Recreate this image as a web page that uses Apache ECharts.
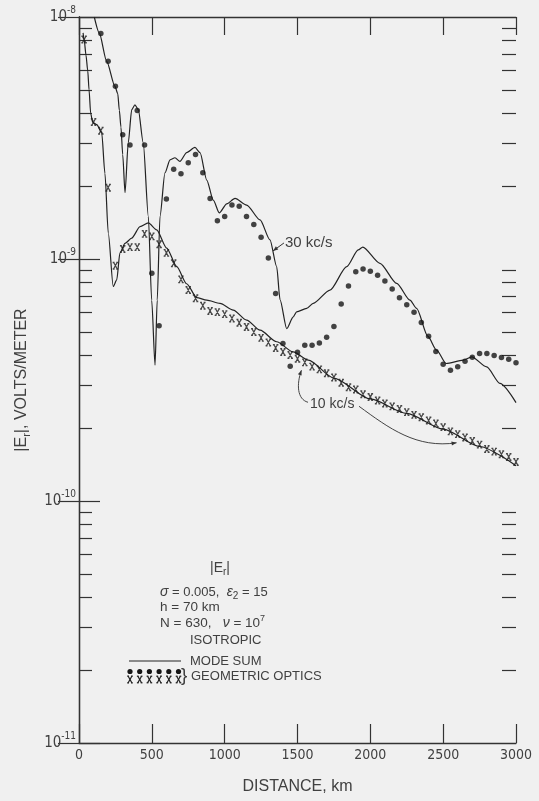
<!DOCTYPE html>
<html><head><meta charset="utf-8">
<script src="https://cdn.jsdelivr.net/npm/echarts@6/dist/echarts.min.js"></script>
<style>html,body{margin:0;padding:0;background:#f0f0f0}#c{width:539px;height:801px}</style>
</head><body><div id="c"></div>
<script>
// ---------- data ----------
const xTickValues = [0, 500, 1000, 1500, 2000, 2500, 3000];
const minorTickFactors = [2, 3, 4, 5, 6, 7, 8, 9];
const minorTickDecades = [-11, -10, -9];

// 30 kc/s mode sum (solid line)
const mode30Dist = [105,139,190,247,266,277,288,300,316,338,362,384,407,441,476,499,522,537,556,590,625,659,693,739,796,831,877,922,963,1014,1071,1151,1243,1311,1357,1380,1426,1471,1494,1563,1608,1723,1838,1917,1948,2066,2181,2272,2318,2394,2455,2520,2638,2696,2799,2890,3000];
const mode30Vals = [1.0e-8,8.6e-9,6.56e-9,5.17e-9,4.82e-9,4.11e-9,3.51e-9,2.7e-9,1.88e-9,3.02e-9,4.14e-9,4.33e-9,4.14e-9,3.02e-9,1.50e-9,6.76e-10,3.64e-10,6.76e-10,1.50e-9,2.27e-9,2.57e-9,2.62e-9,2.53e-9,2.75e-9,2.89e-9,2.75e-9,2.12e-9,1.75e-9,1.55e-9,1.69e-9,1.78e-9,1.67e-9,1.45e-9,1.20e-9,9.3e-10,6.8e-10,5.16e-10,5.77e-10,6.05e-10,6.25e-10,6.56e-10,7.44e-10,9.3e-10,1.09e-9,1.12e-9,9.6e-10,7.93e-10,6.76e-10,6.25e-10,4.8e-10,4.2e-10,3.7e-10,3.82e-10,3.94e-10,3.58e-10,3.06e-10,2.55e-10];

// 30 kc/s geometric optics (dots)
const geo30Dist = [150,200,250,300,350,400,450,500,550,600,650,700,750,800,850,900,950,1000,1050,1100,1150,1200,1250,1300,1350,1400,1450,1500,1550,1600,1650,1700,1750,1800,1850,1900,1950,2000,2050,2100,2150,2200,2250,2300,2350,2400,2450,2500,2550,2600,2650,2700,2750,2800,2850,2900,2950,3000];
const geo30Vals = [8.54e-9,6.56e-9,5.17e-9,3.26e-9,2.96e-9,4.11e-9,2.96e-9,8.73e-10,5.30e-10,1.77e-9,2.35e-9,2.25e-9,2.50e-9,2.70e-9,2.27e-9,1.78e-9,1.44e-9,1.50e-9,1.67e-9,1.65e-9,1.50e-9,1.39e-9,1.23e-9,1.01e-9,7.21e-10,4.48e-10,3.60e-10,4.12e-10,4.40e-10,4.40e-10,4.50e-10,4.75e-10,5.26e-10,6.51e-10,7.73e-10,8.86e-10,9.09e-10,8.89e-10,8.56e-10,8.11e-10,7.51e-10,6.91e-10,6.47e-10,6.03e-10,5.47e-10,4.80e-10,4.15e-10,3.67e-10,3.47e-10,3.59e-10,3.78e-10,3.93e-10,4.07e-10,4.07e-10,3.99e-10,3.92e-10,3.85e-10,3.73e-10];

// 10 kc/s mode sum (solid line)
const mode10Dist = [28,36,48,60,69,80,94,122,156,178,201,235,259,281,316,362,419,476,533,602,671,739,808,877,968,1059,1151,1243,1357,1471,1574,1750,2000,2250,2500,2750,3000];
const mode10Vals = [8.6e-9,8.0e-9,6.95e-9,6.0e-9,5.0e-9,4.0e-9,3.67e-9,3.59e-9,3.32e-9,2.26e-9,1.28e-9,7.7e-10,8.2e-10,1.06e-9,1.16e-9,1.22e-9,1.36e-9,1.41e-9,1.32e-9,1.11e-9,9.3e-10,7.9e-10,6.93e-10,6.76e-10,6.56e-10,6.15e-10,5.59e-10,5.08e-10,4.55e-10,4.13e-10,3.82e-10,3.22e-10,2.64e-10,2.30e-10,1.98e-10,1.68e-10,1.40e-10];

// 10 kc/s geometric optics (x marks)
const geo10Dist = [35,100,150,200,250,300,350,400,450,500,550,600,650,700,750,800,850,900,950,1000,1050,1100,1150,1200,1250,1300,1350,1400,1450,1500,1550,1600,1650,1700,1750,1800,1850,1900,1950,2000,2050,2100,2150,2200,2250,2300,2350,2400,2450,2500,2550,2600,2650,2700,2750,2800,2850,2900,2950,3000];
const geo10Vals = [8.07e-9,3.68e-9,3.39e-9,1.97e-9,9.38e-10,1.10e-9,1.12e-9,1.12e-9,1.27e-9,1.24e-9,1.15e-9,1.06e-9,9.6e-10,8.24e-10,7.44e-10,6.88e-10,6.41e-10,6.10e-10,6.03e-10,5.92e-10,5.68e-10,5.45e-10,5.24e-10,4.99e-10,4.72e-10,4.52e-10,4.29e-10,4.13e-10,4.01e-10,3.87e-10,3.74e-10,3.59e-10,3.50e-10,3.37e-10,3.24e-10,3.08e-10,2.95e-10,2.89e-10,2.76e-10,2.69e-10,2.60e-10,2.53e-10,2.46e-10,2.40e-10,2.33e-10,2.27e-10,2.22e-10,2.15e-10,2.09e-10,2.02e-10,1.94e-10,1.89e-10,1.83e-10,1.77e-10,1.71e-10,1.64e-10,1.60e-10,1.56e-10,1.52e-10,1.45e-10];

// annotation anchors (data coordinates)
const label30At = [1414, 1.165e-9];
const target30 = [1332, 1.08e-9];
const label10At = [1586, 2.51e-10];
const target10a = [1527, 3.47e-10];
const target10b = [2592, 1.74e-10];

// ---------- styling ----------
const INK = '#232323';
const TXT = '#404040';
const NARROW = '"Liberation Sans Narrow","DejaVu Sans Condensed","Liberation Sans",sans-serif';
const SANS = '"Liberation Sans","DejaVu Sans",sans-serif';
const XPATH = 'path://M0,0L3.5,0M6.5,0L10,0M0,12L3.5,12M6.5,12L10,12M1.8,0L8.2,12M8.2,0L1.8,12';

const zip = (a, b) => a.map((v, i) => [v, b[i]]);
const minorExps = [];
minorTickDecades.forEach(d => minorTickFactors.forEach(f => minorExps.push(d + Math.log10(f))));

const chart = echarts.init(document.getElementById('c'), null, {renderer: 'canvas'});
const axisLine = {show: true, lineStyle: {color: '#333', width: 1.3}};
const tickStyle = {color: '#333', width: 1.2};

chart.setOption({
  backgroundColor: '#f0f0f0',
  animation: false,
  grid: {left: 79, right: 23, top: 17, bottom: 58, containLabel: false},
  xAxis: [
    {type: 'value', position: 'bottom', min: 0, max: 3000, interval: 500,
     axisLine, axisTick: {show: true, inside: true, length: 19, lineStyle: tickStyle},
     splitLine: {show: false},
     axisLabel: {margin: 5, fontSize: 14, fontFamily: NARROW, color: TXT,
       customValues: xTickValues, formatter: v => String(v)},
     name: 'DISTANCE, km', nameLocation: 'middle', nameGap: 36,
     nameTextStyle: {fontSize: 16, fontFamily: SANS, color: TXT}},
    {type: 'value', position: 'top', min: 0, max: 3000, interval: 500,
     axisLine, axisTick: {show: true, inside: true, length: 18, lineStyle: tickStyle},
     splitLine: {show: false}, axisLabel: {show: false}}
  ],
  yAxis: [
    {type: 'log', logBase: 10, position: 'left', min: 1e-11, max: 1e-8, splitNumber: 3,
     axisLine, axisTick: {show: true, inside: true, length: 21, lineStyle: tickStyle},
     splitLine: {show: false}, minorTick: {show: false},
     axisLabel: {margin: 3, showMinLabel: true, showMaxLabel: true,
       formatter: v => '{b|10}{s|' + Math.round(Math.log10(v)) + '}',
       rich: {
         b: {fontSize: 15, fontFamily: NARROW, color: TXT, lineHeight: 24},
         s: {fontSize: 10, fontFamily: NARROW, color: TXT, lineHeight: 10, verticalAlign: 'top'}
       }},
     name: '{a||E}{r|r}{a||, VOLTS/METER}', nameLocation: 'middle', nameGap: 47, nameRotate: 90,
     nameTextStyle: {fontSize: 16, fontFamily: SANS, color: TXT,
       rich: {
         a: {fontSize: 16, fontFamily: SANS, color: TXT, lineHeight: 20},
         r: {fontSize: 11, fontFamily: SANS, color: TXT, lineHeight: 11, verticalAlign: 'bottom'}
       }}},
    {type: 'log', logBase: 10, position: 'right', min: 1e-11, max: 1e-8, splitNumber: 3,
     axisLine, axisTick: {show: true, inside: true, length: 21, lineStyle: tickStyle},
     splitLine: {show: false}, axisLabel: {show: false}},
    {type: 'value', position: 'left', min: -11, max: -8,
     axisLine: {show: false}, splitLine: {show: false}, axisLabel: {show: false},
     axisTick: {show: true, inside: true, length: 13, lineStyle: tickStyle, customValues: minorExps}},
    {type: 'value', position: 'right', min: -11, max: -8,
     axisLine: {show: false}, splitLine: {show: false}, axisLabel: {show: false},
     axisTick: {show: true, inside: true, length: 14, lineStyle: tickStyle, customValues: minorExps}}
  ],
  series: [
    {type: 'line', name: 'Mode sum 30 kc/s', xAxisIndex: 0, yAxisIndex: 0,
     data: zip(mode30Dist, mode30Vals), showSymbol: false, smooth: 0.25, smoothMonotone: 'x',
     lineStyle: {color: INK, width: 1.2}, silent: true, z: 3},
    {type: 'scatter', name: 'Geometric optics 30 kc/s', xAxisIndex: 0, yAxisIndex: 0,
     data: zip(geo30Dist, geo30Vals), symbol: 'circle', symbolSize: 5.5,
     itemStyle: {color: '#161616'}, silent: true, z: 4},
    {type: 'line', name: 'Mode sum 10 kc/s', xAxisIndex: 0, yAxisIndex: 0,
     data: zip(mode10Dist, mode10Vals), showSymbol: false, smooth: 0.25, smoothMonotone: 'x',
     lineStyle: {color: INK, width: 1.2}, silent: true, z: 3},
    {type: 'scatter', name: 'Geometric optics 10 kc/s', xAxisIndex: 0, yAxisIndex: 0,
     data: zip(geo10Dist, geo10Vals), symbol: XPATH, symbolSize: [5.5, 6.5],
     itemStyle: {color: 'rgba(0,0,0,0)', borderColor: '#1c1c1c', borderWidth: 1.3}, silent: true, z: 4}
  ]
});

// ---------- annotations & text block ----------
const P = v => chart.convertToPixel({seriesIndex: 0}, v);
function arrowHead(tip, from, size) {
  const dx = tip[0] - from[0], dy = tip[1] - from[1];
  const L = Math.hypot(dx, dy) || 1, ux = dx / L, uy = dy / L;
  const bx = tip[0] - ux * size, by = tip[1] - uy * size;
  const w = size * 0.4;
  return {type: 'polygon', shape: {points: [tip, [bx - uy * w, by + ux * w], [bx + uy * w, by - ux * w]]},
          style: {fill: '#333'}, silent: true};
}
function xMark(cx, cy) {
  const s = {stroke: '#1c1c1c', lineWidth: 1.2};
  return {type: 'group', x: cx, y: cy, silent: true, children: [
    {type: 'line', shape: {x1: -2.8, y1: -3.3, x2: -1, y2: -3.3}, style: s},
    {type: 'line', shape: {x1: 1, y1: -3.3, x2: 2.8, y2: -3.3}, style: s},
    {type: 'line', shape: {x1: -2.8, y1: 3.3, x2: -1, y2: 3.3}, style: s},
    {type: 'line', shape: {x1: 1, y1: 3.3, x2: 2.8, y2: 3.3}, style: s},
    {type: 'line', shape: {x1: -1.8, y1: -3.3, x2: 1.8, y2: 3.3}, style: s},
    {type: 'line', shape: {x1: 1.8, y1: -3.3, x2: -1.8, y2: 3.3}, style: s}
  ]};
}
function txt(x, y, text, size, extra) {
  return Object.assign({type: 'text', x, y, silent: true,
    style: Object.assign({text, fill: TXT, fontSize: size, fontFamily: SANS, align: 'left', verticalAlign: 'middle'}, extra || {})});
}

const g = [];
const l30 = P(label30At), t30 = P(target30);
g.push(txt(l30[0], l30[1], '30 kc/s', 15));
g.push({type: 'line', shape: {x1: l30[0] - 1, y1: l30[1], x2: t30[0], y2: t30[1]}, style: {stroke: '#333', lineWidth: 1}, silent: true});
g.push(arrowHead(t30, [l30[0] - 1, l30[1]], 5));

const l10 = P(label10At), ta = P(target10a), tb = P(target10b);
g.push(txt(l10[0], l10[1], '10 kc/s', 14));
const s1 = [l10[0] - 2, l10[1] - 2];
const c1a = [s1[0] - 11, s1[1] - 3], c1b = [ta[0] - 5, ta[1] + 14];
g.push({type: 'bezierCurve', shape: {x1: s1[0], y1: s1[1], cpx1: c1a[0], cpy1: c1a[1], cpx2: c1b[0], cpy2: c1b[1], x2: ta[0], y2: ta[1]},
        style: {stroke: '#444', lineWidth: 1, fill: null}, silent: true});
g.push(arrowHead(ta, c1b, 5));
const s2 = [l10[0] + 49, l10[1] + 2];
const c2a = [s2[0] + 30, s2[1] + 22], c2b = [tb[0] - 40, tb[1] + 6];
g.push({type: 'bezierCurve', shape: {x1: s2[0], y1: s2[1], cpx1: c2a[0], cpy1: c2a[1], cpx2: c2b[0], cpy2: c2b[1], x2: tb[0], y2: tb[1]},
        style: {stroke: '#444', lineWidth: 1, fill: null}, silent: true});
g.push(arrowHead(tb, c2b, 5));

// parameter block
g.push(txt(210, 568, '{a||E}{r|r}{a||}', 13, {rich: {
  a: {fontSize: 14, fontFamily: SANS, fill: TXT, lineHeight: 18},
  r: {fontSize: 10, fontFamily: SANS, fill: TXT, lineHeight: 10, verticalAlign: 'bottom'}}}));
g.push(txt(160, 592, '{i|σ} = 0.005,  {i|ε}{r|2} = 15', 13, {rich: {
  i: {fontSize: 14, fontFamily: SANS, fontStyle: 'italic', fill: TXT, lineHeight: 18},
  r: {fontSize: 10, fontFamily: SANS, fill: TXT, lineHeight: 10, verticalAlign: 'bottom'}}}));
g.push(txt(160, 607, 'h = 70 km', 13.5));
g.push(txt(160, 623, 'N = 630,   {i|ν} = 10{s|7}', 13.5, {rich: {
  i: {fontSize: 14, fontFamily: SANS, fontStyle: 'italic', fill: TXT, lineHeight: 18},
  s: {fontSize: 9, fontFamily: SANS, fill: TXT, lineHeight: 9, verticalAlign: 'top'}}}));
g.push(txt(190, 640, 'ISOTROPIC', 13));
// legend
g.push({type: 'line', shape: {x1: 129, y1: 661, x2: 181, y2: 661}, style: {stroke: INK, lineWidth: 1.2}, silent: true});
g.push(txt(190, 661, 'MODE SUM', 13));
for (let i = 0; i < 6; i++) {
  const cx = 130 + i * 9.7;
  g.push({type: 'circle', shape: {cx, cy: 671.5, r: 2.6}, style: {fill: '#161616'}, silent: true});
  g.push(xMark(cx, 679.5));
}
g.push(txt(181, 676, '}', 19, {fontFamily: SANS}));
g.push(txt(191, 676, 'GEOMETRIC OPTICS', 13));

chart.setOption({graphic: {elements: g}});
</script>
</body></html>
